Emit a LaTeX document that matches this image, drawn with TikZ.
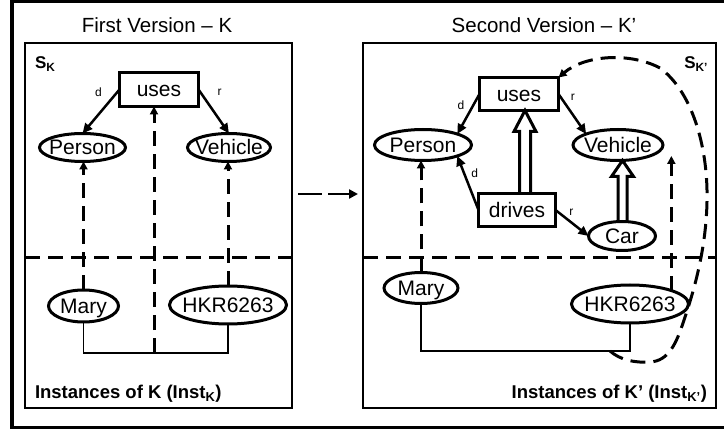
\documentclass[tikz,border=0pt]{standalone}
\usepackage{fontspec}
\setmainfont{Liberation Sans}
\usetikzlibrary{arrows.meta,calc,shapes.geometric}

% zero-width text so that the node size is set only by minimum width/height
\newcommand\ctr[1]{\makebox[0pt]{#1}}
% hollow block arrow: #1 base, #2 apex, #3 shaft half width, #4 head half width, #5 head length
\newcommand\blockarrow[5]{%
  \draw[hollowtip] ($(#1)+(-#3,0)$) -- ($(#2)+(-#3,#5)$) -- ($(#2)+(-#4,#5)$) -- (#2)
    -- ($(#2)+(#4,#5)$) -- ($(#2)+(#3,#5)$) -- ($(#1)+(#3,0)$);}

\begin{document}
\begin{tikzpicture}[x=1pt, y=-1pt,
  every node/.style={inner sep=0pt, outer sep=0pt},
  ent/.style={ellipse, draw, line width=3pt, text height=15pt, text depth=0pt,
    font=\fontsize{21}{24}\selectfont},
  rel/.style={rectangle, draw, line width=3pt, text height=15pt, text depth=0pt,
    font=\fontsize{21}{24}\selectfont},
  title/.style={font=\fontsize{20.5}{24}\selectfont},
  slbl/.style={font=\bfseries\fontsize{17}{20}\selectfont},
  instlbl/.style={font=\bfseries\fontsize{18.5}{22}\selectfont},
  lbl/.style={font=\fontsize{12}{14}\selectfont},
  frame/.style={line width=3.5pt},
  panel/.style={line width=1.3pt},
  link/.style={line width=1.2pt},
  sarrow/.style={line width=2.5pt, -{Triangle[length=10pt,width=9pt]}},
  darrow/.style={line width=3pt, dash pattern=on 15pt off 8pt, -{Triangle[length=8pt,width=8pt]}},
  divider/.style={line width=3pt, dash pattern=on 15pt off 8pt},
  hollowtip/.style={line width=3pt, miter limit=10},
  migrate/.style={line width=2.5pt, dash pattern=on 24pt off 6pt, -{Triangle[length=9pt,width=9pt]}}
]
\useasboundingbox (0,0) rectangle (724,433);

% outer frame and the two panels
\draw[frame] (12,1.5) rectangle (740,427.5);
\draw[panel] (25,43) rectangle (292,408);
\draw[panel] (363,43) rectangle (716,408);
\draw[divider] (25,258) -- (292,258);
\draw[divider] (363,258) -- (716,258);

% titles and panel labels
\node[title] (titleK) at (157,25) {First Version – K};
\node[title] (titleKp) at (544,25) {Second Version – K’};
\node[slbl, anchor=base west] (sK) at (35,69) {S\textsubscript{K}};
\node[slbl, anchor=base east] (sKp) at (708,69) {S\textsubscript{K’}};
\node[instlbl, anchor=base west] (instK) at (35,399) {Instances of K (Inst\textsubscript{K})};
\node[instlbl, anchor=base east] (instKp) at (707,399) {Instances of K’ (Inst\textsubscript{K’})};

% ---------- first version ----------
\node[rel, minimum width=79pt, minimum height=34pt] (usesK) at (159,89.5) {uses};
\node[ent, minimum width=86pt, minimum height=28pt] (personK) at (82.5,147.5) {\ctr{Person}};
\node[ent, minimum width=83pt, minimum height=28pt] (vehicleK) at (229,147.5) {\ctr{Vehicle}};
\node[ent, minimum width=70pt, minimum height=32pt] (maryK) at (83.5,306) {\ctr{Mary}};
\node[ent, minimum width=117pt, minimum height=38pt] (hkrK) at (228,305) {\ctr{HKR6263}};

\draw[sarrow] (usesK.west) -- node[lbl, pos=.3, xshift=-10pt, yshift=10pt] (dK) {d} (personK.north);
\draw[sarrow] (usesK.east) -- node[lbl, pos=.3, xshift=12pt, yshift=10pt] (rK) {r} (vehicleK.north);

\coordinate (jointK) at (154,353);
\draw[link] (maryK.south) |- (jointK) -| (hkrK.south);
\draw[darrow] (maryK.north) -- (maryK.north |- personK.south);
\draw[darrow] (hkrK.north) -- (hkrK.north |- vehicleK.south);
\draw[darrow] (jointK) -- (jointK |- usesK.south);

% evolution arrow between the versions
\coordinate (migS) at (298,194);
\coordinate (migE) at (358,194);
\draw[migrate] (migS) -- (migE);

% ---------- second version ----------
\node[rel, minimum width=79pt, minimum height=33pt] (usesR) at (519,94) {uses};
\node[rel, minimum width=77pt, minimum height=33pt] (drivesR) at (517,210) {drives};
\node[ent, minimum width=97pt, minimum height=31pt] (personR) at (423,145) {\ctr{Person}};
\node[ent, minimum width=90pt, minimum height=31pt] (vehicleR) at (618,145) {\ctr{Vehicle}};
\node[ent, minimum width=67pt, minimum height=29pt] (carR) at (622,236) {\ctr{Car}};
\node[ent, minimum width=74pt, minimum height=31pt] (maryR) at (421,288) {\ctr{Mary}};
\node[ent, minimum width=117pt, minimum height=38pt] (hkrR) at (630,304) {\ctr{HKR6263}};

\draw[sarrow] (usesR.west) -- node[lbl, pos=.3, xshift=-12pt, yshift=1pt] (dR) {d} (personR.north east);
\draw[sarrow] (usesR.east) -- node[lbl, pos=.3, xshift=6pt, yshift=9pt] (rR) {r} (vehicleR.north west);
\draw[sarrow] (drivesR.west) -- node[lbl, pos=.7, xshift=11pt, yshift=-1pt] (dD) {d} (personR.south east);
\draw[sarrow] (drivesR.east) -- node[lbl, pos=.3, xshift=6pt, yshift=6pt] (rD) {r} (carR.west);

% specialisation arrows
\coordinate (hA) at ($(usesR.south)+(6,0)$);
\coordinate (hB) at (hA |- drivesR.north);
\blockarrow{hB}{hA}{5.5}{11}{21}
\coordinate (hC) at ($(vehicleR.south)+(4.5,0)$);
\coordinate (hD) at (hC |- carR.north);
\blockarrow{hD}{hC}{4.5}{11}{16}

% instance links
\coordinate (jointR) at (610,351);
\draw[link] (maryR.south) |- (jointR) -| (hkrR.south);
\draw[darrow] (maryR.north) -- (maryR.north |- personR.south);
\draw[darrow] (hkrR.north east) -- (hkrR.north east |- vehicleR.south east);
\draw[darrow] (jointR) .. controls (620,360) and (635,363) .. (650,362)
  .. controls (668,361) and (676,345) .. (684,320)
  .. controls (696,285) and (708,240) .. (707,190)
  .. controls (706,140) and (690,90) .. (660,68)
  .. controls (630,52) and (585,55) .. (usesR.north east);
\end{tikzpicture}
\end{document}
